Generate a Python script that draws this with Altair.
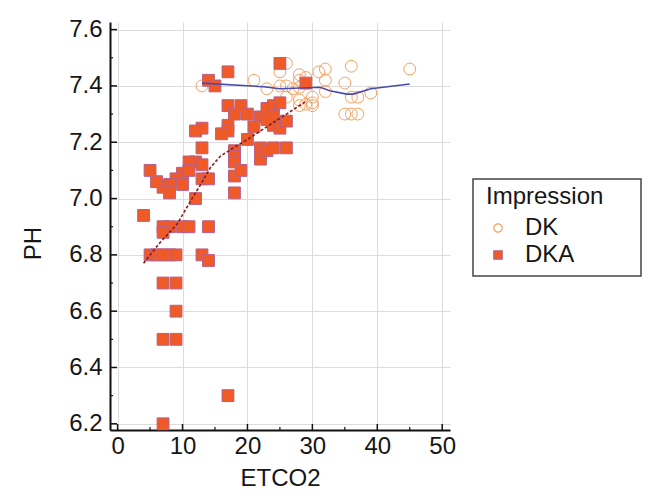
import altair as alt
import pandas as pd

# ---- data ----
dk_x = [13, 21, 23, 25, 26, 25, 26, 26, 27, 28, 28, 28, 29, 28, 28, 29, 30, 30,
        31, 32, 32, 32, 35, 35, 36, 37, 36, 36, 37, 39, 45, 30]
dk_y = [7.40, 7.42, 7.39, 7.45, 7.48, 7.40, 7.40, 7.36, 7.39, 7.44, 7.42, 7.395,
        7.43, 7.35, 7.33, 7.335, 7.36, 7.33, 7.45, 7.46, 7.42, 7.38, 7.41, 7.30,
        7.30, 7.30, 7.47, 7.36, 7.36, 7.375, 7.46, 7.34]

dka_x = [25, 29, 14, 15, 17, 17, 18, 19, 20, 22, 23, 24, 25, 23, 24, 24, 25, 26,
         21, 17, 17, 16, 13, 12, 20, 22, 22, 22, 23, 24, 26, 18, 18, 18, 18, 18,
         19, 18, 13, 11, 12, 13, 10, 11, 9, 10, 8, 7, 6, 5, 8, 13, 14, 12, 4,
         7, 8, 7, 10, 11, 14, 5, 6, 7, 8, 9, 13, 14, 7, 9, 9, 7, 9, 17, 7]
dka_y = [7.48, 7.41, 7.42, 7.40, 7.45, 7.33, 7.30, 7.33, 7.30, 7.29, 7.32, 7.33,
         7.34, 7.28, 7.29, 7.26, 7.25, 7.275, 7.255, 7.26, 7.24, 7.23, 7.25, 7.24,
         7.21, 7.18, 7.16, 7.14, 7.17, 7.18, 7.18, 7.17, 7.16, 7.15, 7.13, 7.08,
         7.10, 7.02, 7.18, 7.13, 7.13, 7.12, 7.09, 7.10, 7.07, 7.05, 7.05, 7.04,
         7.06, 7.10, 7.02, 7.07, 7.07, 7.00, 6.94, 6.90, 6.90, 6.88, 6.90, 6.90,
         6.90, 6.80, 6.80, 6.80, 6.80, 6.80, 6.80, 6.78, 6.70, 6.70, 6.60, 6.50,
         6.50, 6.30, 6.20]

# smoothed curves as drawn in the picture
dk_line_x = [13, 22.5, 25, 31.2, 32.7, 35.3, 36.3, 39, 45]
dk_line_y = [7.41, 7.397, 7.39, 7.395, 7.383, 7.371, 7.371, 7.39, 7.407]
dka_line_x = [4, 6.4, 9.2, 11.2, 12.8, 14.3, 15.8, 17.5, 20, 24, 26, 29]
dka_line_y = [6.77, 6.84, 6.91, 6.99, 7.05, 7.11, 7.15, 7.175, 7.21, 7.27, 7.30, 7.345]

x_ticks = [0, 10, 20, 30, 40, 50]
x_minor = [5, 15, 25, 35, 45]
y_ticks = [6.2, 6.4, 6.6, 6.8, 7.0, 7.2, 7.4, 7.6]
y_minor = [6.3, 6.5, 6.7, 6.9, 7.1, 7.3, 7.5]

groups = ["DK", "DKA"]

pts = pd.DataFrame({
    "ETCO2": dk_x + dka_x,
    "PH": dk_y + dka_y,
    "Impression": ["DK"] * len(dk_x) + ["DKA"] * len(dka_x),
})
dk_line = pd.DataFrame({"ETCO2": dk_line_x, "PH": dk_line_y, "o": range(len(dk_line_x))})
dka_line = pd.DataFrame({"ETCO2": dka_line_x, "PH": dka_line_y, "o": range(len(dka_line_x))})

W, H = 340, 408
FONT = "Liberation Sans"
TXT = "#161616"

xs = alt.Scale(domain=[-1.17, 51.2], nice=False, zero=False)
ys = alt.Scale(domain=[6.178, 7.627], nice=False, zero=False)

xaxis = alt.Axis(values=x_ticks, grid=True, gridColor="#dcdcdc", gridWidth=1,
                 ticks=False, tickSize=0, labelPadding=4, labelFontSize=24,
                 labelFont=FONT, labelColor=TXT, domainColor="#111",
                 domainWidth=2, title="ETCO2", titleFont=FONT, titleFontSize=24,
                 titleFontWeight="normal", titleColor=TXT,
                 titleBaseline="alphabetic", titleY=55)
yaxis = alt.Axis(values=y_ticks, grid=True, gridColor="#dcdcdc", gridWidth=1,
                 ticks=False, tickSize=0, labelPadding=8, labelFontSize=24,
                 labelFont=FONT, labelColor=TXT, domainColor="#111",
                 domainWidth=2, title="PH", titleFont=FONT, titleFontSize=24,
                 titleFontWeight="normal", titleColor=TXT,
                 titleBaseline="alphabetic", titleX=-70, titleY=221, titleAngle=-90,
                 format=".1f")

legend = alt.Legend(orient="none", legendX=376, legendY=163, title="Impression",
                    titleFont=FONT, titleFontSize=24, titleFontWeight="normal",
                    titleColor=TXT, titlePadding=7, labelFont=FONT,
                    labelFontSize=24, labelColor=TXT, symbolSize=70,
                    rowPadding=3, labelOffset=15, padding=0, symbolStrokeWidth=1.2)

points = alt.Chart(pts).mark_point(size=140, opacity=1, strokeWidth=1).encode(
    x=alt.X("ETCO2:Q", scale=xs, axis=xaxis),
    y=alt.Y("PH:Q", scale=ys, axis=yaxis),
    shape=alt.Shape("Impression:N", scale=alt.Scale(domain=groups, range=["circle", "square"]), legend=legend),
    fill=alt.Fill("Impression:N", scale=alt.Scale(domain=groups, range=["transparent", "#F05A26"]), legend=legend),
    stroke=alt.Stroke("Impression:N", scale=alt.Scale(domain=groups, range=["#F7A15E", "#B8608A"]), legend=legend),
)

l_dk = alt.Chart(dk_line).mark_line(color="#4a4aae", strokeWidth=1.6).encode(
    x="ETCO2:Q", y="PH:Q", order="o:Q")
l_dka = alt.Chart(dka_line).mark_line(color="#8b1a1a", strokeWidth=1.6, strokeDash=[3, 2]).encode(
    x="ETCO2:Q", y="PH:Q", order="o:Q")

xt = alt.Chart(pd.DataFrame({"v": x_ticks})).mark_rule(color="#111", strokeWidth=1.5).encode(
    x="v:Q", y=alt.value(H), y2=alt.value(H - 6))
xm = alt.Chart(pd.DataFrame({"v": x_minor})).mark_rule(color="#111", strokeWidth=1.2).encode(
    x="v:Q", y=alt.value(H), y2=alt.value(H - 3))
yt = alt.Chart(pd.DataFrame({"v": y_ticks})).mark_rule(color="#111", strokeWidth=1.5).encode(
    y="v:Q", x=alt.value(0), x2=alt.value(7))
ym = alt.Chart(pd.DataFrame({"v": y_minor})).mark_rule(color="#111", strokeWidth=1.2).encode(
    y="v:Q", x=alt.value(0), x2=alt.value(3))

frame = alt.Chart(alt.Data(values=[{"a": 1}])).mark_rect(
    fill="transparent", stroke="#444", strokeWidth=1.5).encode(
    x=alt.value(363), x2=alt.value(531), y=alt.value(157), y2=alt.value(254))

chart = alt.layer(points, l_dk, l_dka, xt, xm, yt, ym, frame).properties(
    width=W, height=H,
    autosize=alt.AutoSizeParams(type="none"),
    padding={"left": 102, "top": 14, "right": 193, "bottom": 61},
    background="white",
).configure_view(strokeWidth=0)

chart.save("out.html", embed_options={"renderer": "svg", "actions": False})
